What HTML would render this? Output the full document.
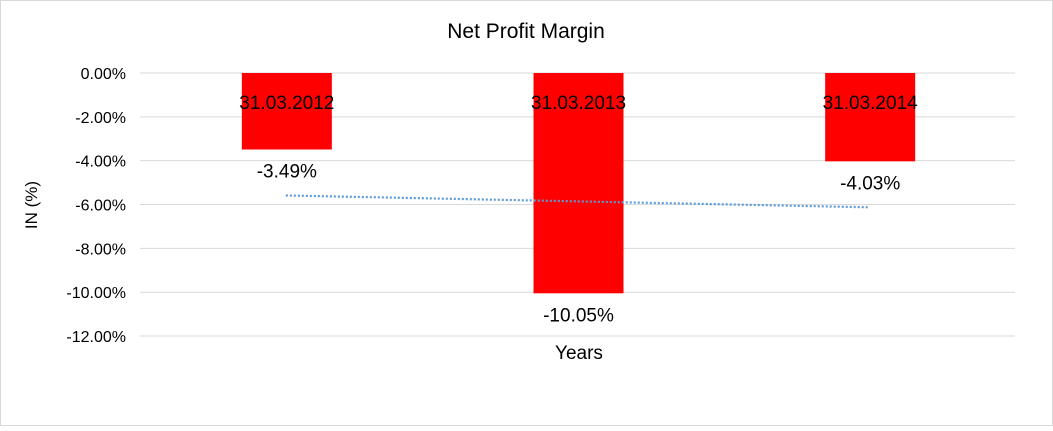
<!DOCTYPE html>
<html><head><meta charset="utf-8"><style>
body{margin:0;background:#fff}
svg text{font-family:"Liberation Sans",Arial,sans-serif;fill:#000}
</style></head><body>
<svg width="1053" height="426" xmlns="http://www.w3.org/2000/svg">
<rect x="0.5" y="0.5" width="1052" height="425" fill="#fff" stroke="#d9d9d9"/>
<text x="526" y="38" font-size="21" text-anchor="middle">Net Profit Margin</text>
<text transform="translate(37,205) rotate(-90)" font-size="17" text-anchor="middle">IN (%)</text>
<text x="579" y="359" font-size="19" text-anchor="middle">Years</text>
<g id="grid"></g><g id="bars"></g><g id="trend"></g>
</svg>
<script>
const categories=["31.03.2012","31.03.2013","31.03.2014"];
const values=[-3.49,-10.05,-4.03];
const ticks=[0,-2,-4,-6,-8,-10,-12];
const ns="http://www.w3.org/2000/svg";
const x0=140,x1=1015,y0=73,yPer=21.92;
const Y=v=>y0-v*yPer;
const X=i=>x0+(i+0.5)*(x1-x0)/categories.length;
function mk(t,a,p){const e=document.createElementNS(ns,t);for(const k in a)e.setAttribute(k,a[k]);p.appendChild(e);return e;}
const g=document.getElementById('grid'),b=document.getElementById('bars'),tr=document.getElementById('trend');
ticks.forEach(t=>{
 const l=mk('line',{x1:x0,x2:x1,y1:Y(t),y2:Y(t),stroke:'#d9d9d9','stroke-width':1},g);
 
 
 const tx=mk('text',{x:126,y:Y(t)+6,'font-size':16,'text-anchor':'end'},g);
 tx.textContent=t.toFixed(2)+'%';
 
 
});
categories.forEach((c,i)=>{
 const v=values[i],cx=X(i)+1;
 const r=mk('rect',{x:cx-45,y:Y(0),width:90,height:Y(v)-Y(0),fill:'#ff0000'},b);
 
 
 const cl=mk('text',{x:cx,y:109,'font-size':19,'text-anchor':'middle'},b);
 cl.textContent=c;
 
 
 const vl=mk('text',{x:cx,y:Y(v)+28,'font-size':19,'text-anchor':'middle'},b);
 vl.textContent=v.toFixed(2)+'%';
 
 
});
const n=values.length,mx=(n-1)/2,my=values.reduce((a,c)=>a+c,0)/n;
let num=0,den=0;values.forEach((v,i)=>{num+=(i-mx)*(v-my);den+=(i-mx)*(i-mx);});
const s=num/den,f=i=>my+s*(i-mx);
const tl=mk('line',{x1:X(0),y1:Y(f(0)),x2:X(n-1),y2:Y(f(n-1)),stroke:'#5b9bd5','stroke-width':2.2,'stroke-dasharray':'2 2'},tr);


</script>
</body></html>
